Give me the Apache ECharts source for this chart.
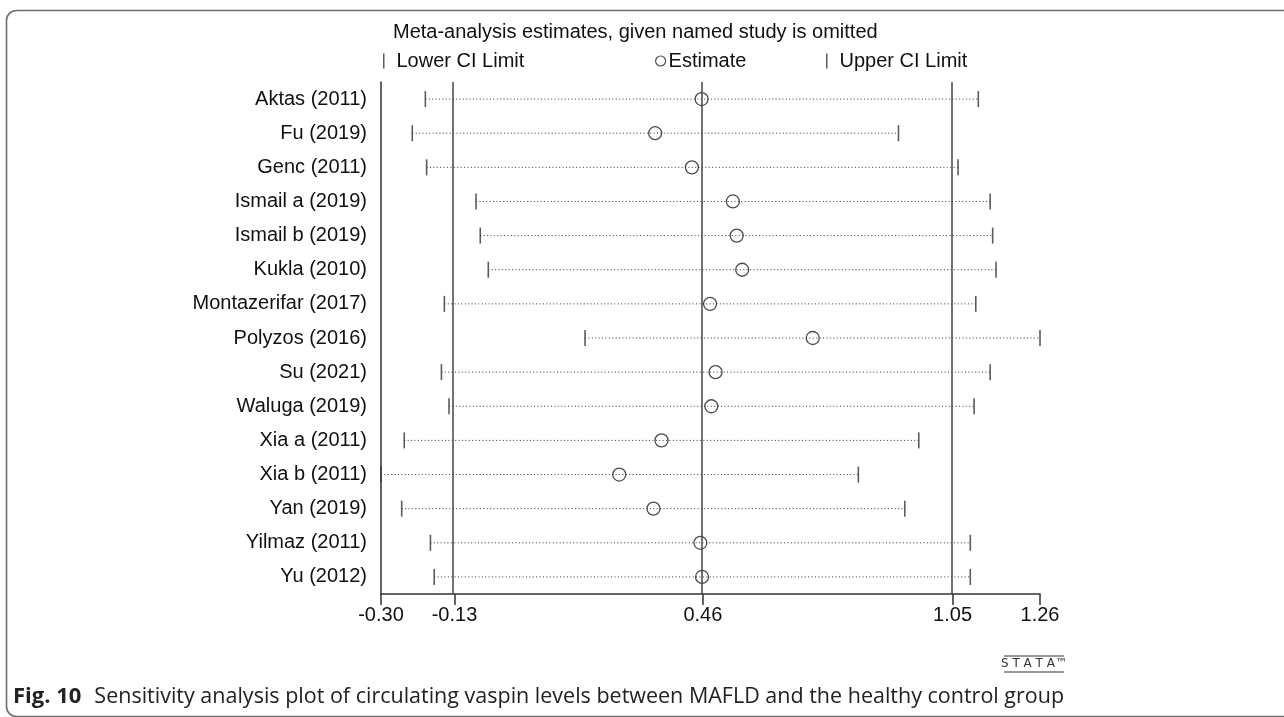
<!DOCTYPE html>
<html>
<head>
<meta charset="utf-8">
<script src="https://cdn.jsdelivr.net/npm/echarts@6/dist/echarts.min.js"></script>
<style>
html,body{margin:0;padding:0;background:#fff;}
#chart{width:1284px;height:717px;}
</style>
</head>
<body>
<div id="chart"></div>
<script>
const studies = ['Aktas (2011)','Fu (2019)','Genc (2011)','Ismail a (2019)','Ismail b (2019)','Kukla (2010)','Montazerifar (2017)','Polyzos (2016)','Su (2021)','Waluga (2019)','Xia a (2011)','Xia b (2011)','Yan (2019)','Yilmaz (2011)','Yu (2012)'];
const lower    = [-0.195,-0.226,-0.192,-0.075,-0.065,-0.046,-0.150, 0.183,-0.157,-0.139,-0.245,-0.300,-0.251,-0.183,-0.174];
const estimate = [ 0.459, 0.349, 0.436, 0.533, 0.542, 0.555, 0.479, 0.722, 0.492, 0.482, 0.364, 0.264, 0.345, 0.456, 0.460];
const upper    = [ 1.114, 0.925, 1.066, 1.142, 1.148, 1.156, 1.108, 1.260, 1.142, 1.104, 0.973, 0.830, 0.940, 1.095, 1.095];
const refLines = [-0.126, 0.462, 1.053];
const xTicks   = [-0.30, -0.126, 0.462, 1.053, 1.26];
const rowIdx = studies.map((s,i)=>i+1);

const FONT = "'Liberation Sans', Arial, sans-serif";
const CAPFONT = "'Open Sans', Lato, sans-serif";
const chart = echarts.init(document.getElementById('chart'), null, {renderer:'canvas'});

const option = {
  backgroundColor:'#fff',
  animation:false,
  title:{
    text:'Meta-analysis estimates, given named study is omitted',
    left:388, top:17,
    textStyle:{fontFamily:FONT,fontSize:20,fontWeight:'normal',color:'#111'}
  },
  legend:[
    {data:['Lower CI Limit'], left:378, top:46, icon:'rect', itemWidth:1.5, itemHeight:15,
     textStyle:{fontFamily:FONT,fontSize:20,color:'#111',padding:[0,0,0,7]}},
    {data:['Estimate'], left:650, top:46, icon:'circle', itemWidth:10, itemHeight:10,
     itemStyle:{color:'rgba(0,0,0,0)',borderColor:'#222',borderWidth:1.2},
     textStyle:{fontFamily:FONT,fontSize:20,color:'#111',padding:[0,0,0,-2]}},
    {data:['Upper CI Limit'], left:821, top:46, icon:'rect', itemWidth:1.5, itemHeight:15,
     textStyle:{fontFamily:FONT,fontSize:20,color:'#111',padding:[0,0,0,7]}}
  ],
  grid:{left:381, right:244, top:82, bottom:123},
  xAxis:{
    type:'value', min:-0.30, max:1.26,
    axisLine:{onZero:false, lineStyle:{color:'#333',width:1.5}},
    axisTick:{show:true, length:11, customValues:xTicks, lineStyle:{color:'#333',width:1.5}},
    axisLabel:{customValues:xTicks, formatter:v=>v.toFixed(2), margin:11,
      fontFamily:FONT,fontSize:20,color:'#111'},
    splitLine:{show:false}
  },
  yAxis:{
    type:'value', inverse:true, min:0.5, max:15.5,
    axisLine:{show:true, onZero:false, lineStyle:{color:'#333',width:1.5}},
    axisTick:{show:false},
    axisLabel:{customValues:rowIdx, formatter:v=>studies[Math.round(v)-1], margin:14,
      fontFamily:FONT,fontSize:20,color:'#111'},
    splitLine:{show:false}
  },
  series:[
    {
      type:'custom', name:'CI', z:1,
      data:studies.map((s,i)=>[lower[i],upper[i],i+1]),
      encode:{x:[0,1], y:2},
      renderItem:function(params, api){
        const p1 = api.coord([api.value(0), api.value(2)]);
        const p2 = api.coord([api.value(1), api.value(2)]);
        return {type:'line', shape:{x1:p1[0],y1:p1[1],x2:p2[0],y2:p2[1]},
          style:{stroke:'#333',lineWidth:1,lineDash:[1,2.4]}};
      },
      markLine:{
        silent:true, symbol:'none', label:{show:false},
        lineStyle:{type:'solid',color:'#444',width:1.5},
        data:refLines.map(v=>({xAxis:v}))
      }
    },
    {
      type:'scatter', name:'Lower CI Limit', z:3,
      symbol:'rect', symbolSize:[1.6,16],
      itemStyle:{color:'#333'},
      data:lower.map((v,i)=>[v,i+1])
    },
    {
      type:'scatter', name:'Estimate', z:4,
      symbol:'circle', symbolSize:13,
      itemStyle:{color:'rgba(0,0,0,0)',borderColor:'#222',borderWidth:1.3},
      data:estimate.map((v,i)=>[v,i+1])
    },
    {
      type:'scatter', name:'Upper CI Limit', z:3,
      symbol:'rect', symbolSize:[1.6,16],
      itemStyle:{color:'#333'},
      data:upper.map((v,i)=>[v,i+1])
    }
  ],
  graphic:[
    {type:'rect', silent:true, z:0,
     shape:{x:6.5,y:10.5,width:1320,height:706,r:10},
     style:{fill:'none',stroke:'#6e6e6e',lineWidth:1.6}},
    {type:'line', silent:true, shape:{x1:1004,y1:656,x2:1064,y2:656}, style:{stroke:'#333',lineWidth:1}},
    {type:'text', silent:true, x:1034, y:664,
     style:{text:'S T A T A™', fontFamily:"'DejaVu Sans', sans-serif", fontSize:12, fill:'#333', align:'center', verticalAlign:'middle'}},
    {type:'line', silent:true, shape:{x1:1004,y1:672,x2:1064,y2:672}, style:{stroke:'#333',lineWidth:1}},
    {type:'text', silent:true, x:13, y:697,
     style:{
       text:'{b|Fig. 10}Sensitivity analysis plot of circulating vaspin levels between MAFLD and the healthy control group',
       fontFamily:CAPFONT, fontSize:21.5, fill:'#222', verticalAlign:'middle',
       rich:{b:{fontFamily:CAPFONT, fontSize:22, fontWeight:'bold', fill:'#222', padding:[0,13,0,0]}}
     }}
  ]
};
chart.setOption(option);
</script>
</body>
</html>
